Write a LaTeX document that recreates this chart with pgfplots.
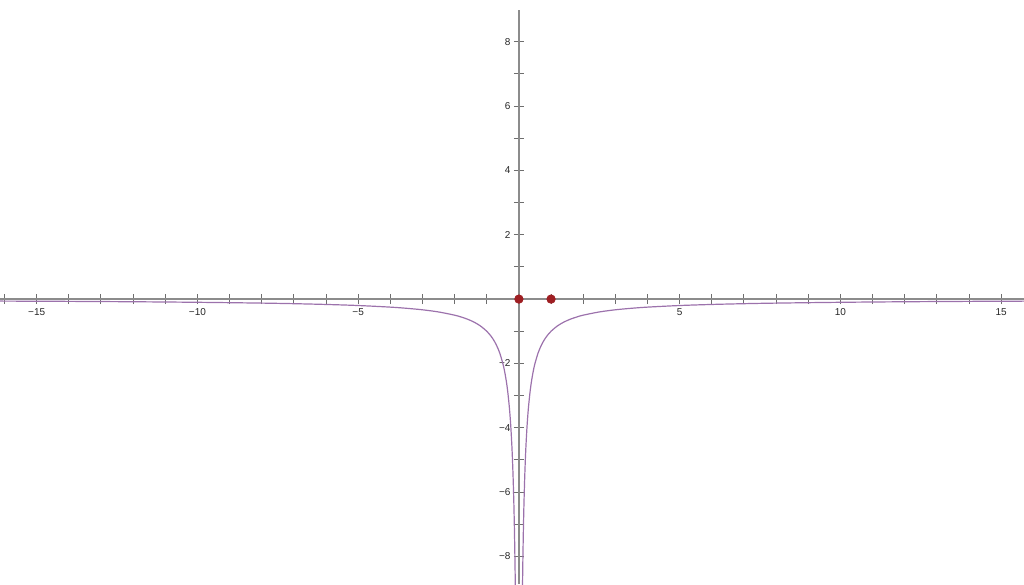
\documentclass[border=0pt]{standalone}
\usepackage{pgfplots}
\pgfplotsset{compat=1.18}
\usepackage{pgfplotstable}
\usepackage{fontspec}
\setmainfont{Liberation Sans}

\definecolor{curvepurple}{HTML}{9C72AC}
\definecolor{pointred}{HTML}{9E1E22}
\definecolor{axisgray}{HTML}{8C8C8C}
\definecolor{tickgray}{HTML}{6E6E6E}

% right branch of y = -1/|x|; the left branch is its mirror image
\pgfplotstableread{
x      y
0.105  -9.524
0.11   -9.091
0.12   -8.333
0.13   -7.692
0.14   -7.143
0.15   -6.667
0.16   -6.250
0.18   -5.556
0.20   -5.000
0.22   -4.545
0.25   -4.000
0.28   -3.571
0.30   -3.333
0.35   -2.857
0.40   -2.500
0.45   -2.222
0.50   -2.000
0.60   -1.667
0.70   -1.429
0.80   -1.250
0.90   -1.111
1.00   -1.000
1.20   -0.833
1.40   -0.714
1.60   -0.625
1.80   -0.556
2.00   -0.500
2.50   -0.400
3.00   -0.333
3.50   -0.286
4.00   -0.250
5.00   -0.200
6.00   -0.167
7.00   -0.143
8.00   -0.125
10.0   -0.100
12.0   -0.083
14.0   -0.071
16.5   -0.061
}\branch

\begin{document}
\begin{tikzpicture}
\fontsize{5}{6}\selectfont
\begin{axis}[
  scale only axis,
  width=512pt, height=292pt,
  xmin=-16.14, xmax=15.71,
  ymin=-8.86, ymax=9.30,
  axis lines=middle,
  axis line style={-, axisgray, line width=0.6pt},
  y axis line style={draw=none},
  xtick={-15,-10,-5,5,10,15},
  xticklabels={−15,−10,−5,5,10,15},
  ytick={-8,-6,-4,-2,2,4,6,8},
  yticklabels={−8,−6,−4,−2,2,4,6,8},
  minor xtick={-16,-14,-13,-12,-11,-9,-8,-7,-6,-4,-3,-2,-1,1,2,3,4,6,7,8,9,11,12,13,14},
  minor ytick={-7,-5,-3,-1,1,3,5,7},
  tick align=center,
  major tick length=5pt,
  minor tick length=5pt,
  tick style={tickgray, line width=0.5pt},
  xticklabel style={font=\fontsize{5}{6}\selectfont, text=black!85, inner sep=1pt, yshift=-1pt},
  yticklabel style={font=\fontsize{5}{6}\selectfont, text=black!85, inner sep=1pt, xshift=-0.5pt},
  clip=true,
]
\coordinate (bl) at (rel axis cs:0,0);
\coordinate (tr) at (rel axis cs:1,1);
% the vertical axis stops at y = 9
\draw[axisgray, line width=0.6pt] (axis cs:0,-8.86) -- (axis cs:0,9);
\addplot[curvepurple, line width=0.6pt, smooth] table[x=x, y=y] {\branch};
\addplot[curvepurple, line width=0.6pt, smooth] table[x expr=-\thisrow{x}, y=y] {\branch};
\addplot[only marks, mark=*, mark size=2.1pt, mark options={fill=pointred, draw=pointred}]
  coordinates {(0,0) (1,0)};
\end{axis}
\pgfresetboundingbox
\path (bl) rectangle (tr);
\end{tikzpicture}
\end{document}
